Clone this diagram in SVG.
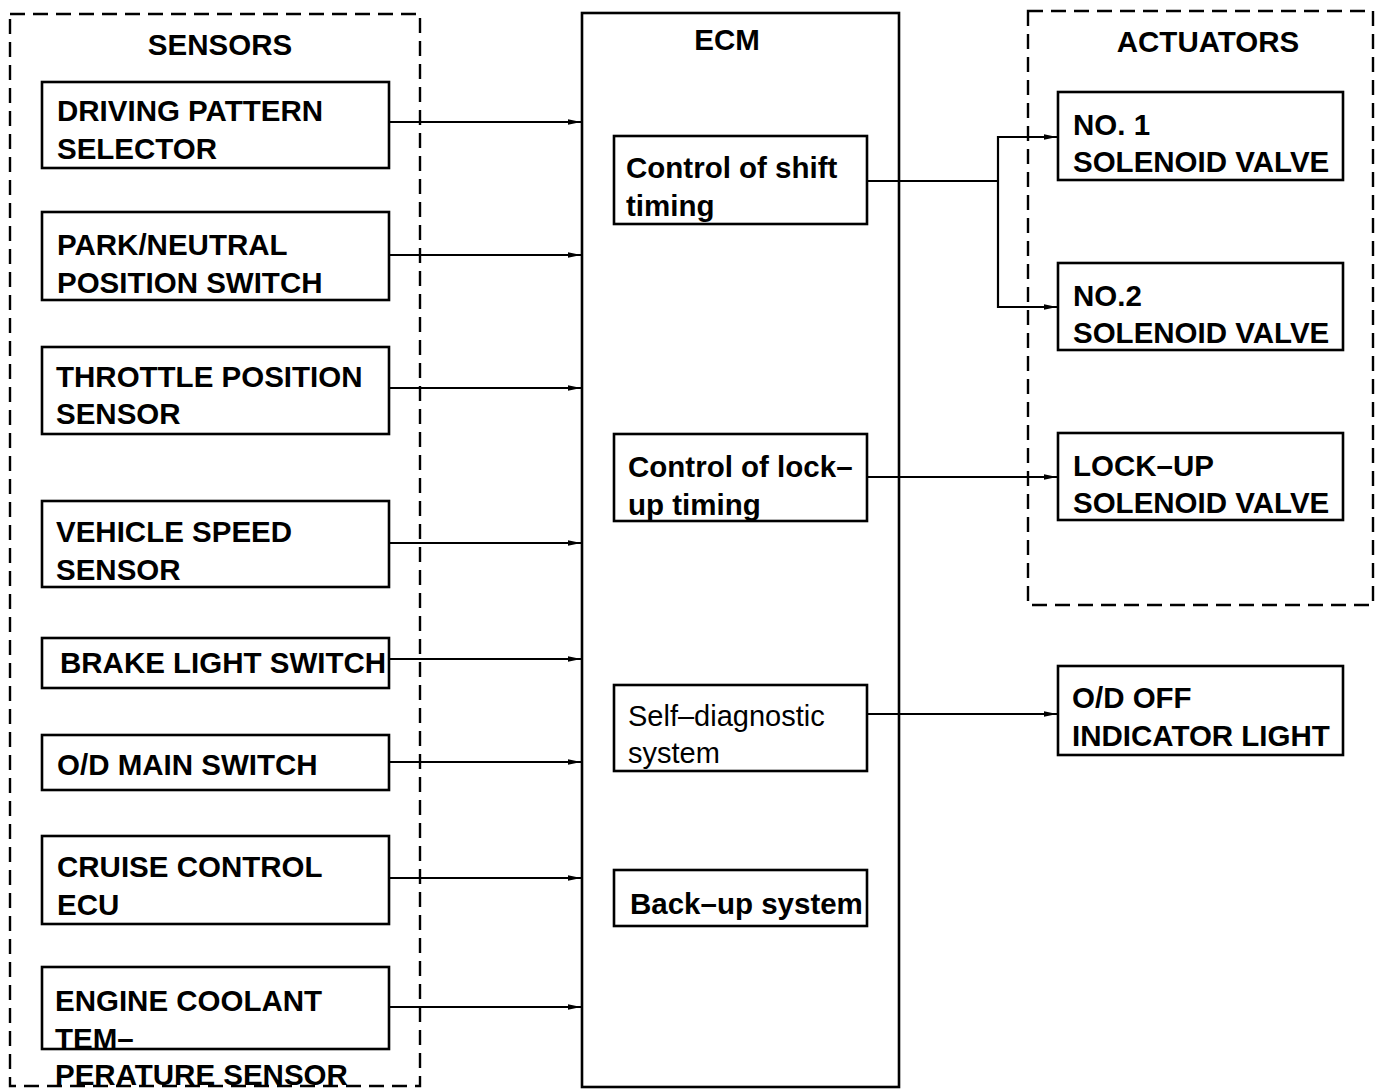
<svg xmlns="http://www.w3.org/2000/svg" width="1376" height="1090" viewBox="0 0 1376 1090">
<style>
.box{fill:none;stroke:#000;stroke-width:2.6}
.dash{fill:none;stroke:#000;stroke-width:2.4;stroke-dasharray:15 8}
.b{font-family:"Liberation Sans",Arial,sans-serif;font-weight:bold;font-size:29.5px;fill:#000}
.r{font-family:"Liberation Sans",Arial,sans-serif;font-size:29px;fill:#000}
.c{fill:none;stroke:#000;stroke-width:2.2}
</style>
<defs>
<marker id="ah" viewBox="0 0 13 8" refX="13" refY="4" markerWidth="13" markerHeight="8" markerUnits="userSpaceOnUse" orient="auto">
<path d="M0,1.2 L13,4 L0,6.8 Z" fill="#000"/>
</marker>
</defs>
<rect width="1376" height="1090" fill="#fff"/>
<g id="sensors-group">
<rect class="dash" x="10" y="14" width="410" height="1072"/>
<text class="b" x="220" y="55" text-anchor="middle">SENSORS</text>
</g>
<g id="actuators-group">
<rect class="dash" x="1028" y="11" width="345" height="594"/>
<text class="b" x="1208" y="52" text-anchor="middle">ACTUATORS</text>
</g>
<g id="ecm">
<rect class="box" x="582" y="13" width="317" height="1074"/>
<text class="b" x="727" y="50" text-anchor="middle">ECM</text>
</g>
<g id="s1"><rect class="box" x="42" y="82" width="347" height="86"/><text class="b" x="57" y="121">DRIVING PATTERN</text><text class="b" x="57" y="159">SELECTOR</text></g>
<g id="s2"><rect class="box" x="42" y="212" width="347" height="88"/><text class="b" x="57" y="255">PARK/NEUTRAL</text><text class="b" x="57" y="293">POSITION SWITCH</text></g>
<g id="s3"><rect class="box" x="42" y="347" width="347" height="87"/><text class="b" x="56" y="387">THROTTLE POSITION</text><text class="b" x="56" y="424">SENSOR</text></g>
<g id="s4"><rect class="box" x="42" y="501" width="347" height="86"/><text class="b" x="56" y="542">VEHICLE SPEED</text><text class="b" x="56" y="580">SENSOR</text></g>
<g id="s5"><rect class="box" x="42" y="638" width="347" height="50"/><text class="b" x="60" y="673">BRAKE LIGHT SWITCH</text></g>
<g id="s6"><rect class="box" x="42" y="735" width="347" height="55"/><text class="b" x="57" y="775">O/D MAIN SWITCH</text></g>
<g id="s7"><rect class="box" x="42" y="836" width="347" height="88"/><text class="b" x="57" y="877">CRUISE CONTROL</text><text class="b" x="57" y="915">ECU</text></g>
<g id="s8"><rect class="box" x="42" y="967" width="347" height="82"/><text class="b" x="55" y="1011">ENGINE COOLANT</text><text class="b" x="55" y="1049">TEM–</text><text class="b" x="55" y="1085">PERATURE SENSOR</text></g>
<g id="e1"><rect class="box" x="614" y="136" width="253" height="88"/><text class="b" x="626" y="178">Control of shift</text><text class="b" x="626" y="216">timing</text></g>
<g id="e2"><rect class="box" x="614" y="434" width="253" height="87"/><text class="b" x="628" y="477">Control of lock–</text><text class="b" x="628" y="515">up timing</text></g>
<g id="e3"><rect class="box" x="614" y="685" width="253" height="86"/><text class="r" x="628" y="726">Self–diagnostic</text><text class="r" x="628" y="763">system</text></g>
<g id="e4"><rect class="box" x="614" y="870" width="253" height="56"/><text class="b" x="630" y="914">Back–up system</text></g>
<g id="a1"><rect class="box" x="1058" y="92" width="285" height="88"/><text class="b" x="1073" y="135">NO. 1</text><text class="b" x="1073" y="172">SOLENOID VALVE</text></g>
<g id="a2"><rect class="box" x="1058" y="263" width="285" height="87"/><text class="b" x="1073" y="306">NO.2</text><text class="b" x="1073" y="343">SOLENOID VALVE</text></g>
<g id="a3"><rect class="box" x="1058" y="433" width="285" height="87"/><text class="b" x="1073" y="476">LOCK–UP</text><text class="b" x="1073" y="513">SOLENOID VALVE</text></g>
<g id="a4"><rect class="box" x="1058" y="666" width="285" height="89"/><text class="b" x="1072" y="708">O/D OFF</text><text class="b" x="1072" y="746">INDICATOR LIGHT</text></g>
<g id="connectors">
<line class="c" x1="389" y1="122" x2="581" y2="122" marker-end="url(#ah)"/>
<line class="c" x1="389" y1="255" x2="581" y2="255" marker-end="url(#ah)"/>
<line class="c" x1="389" y1="388" x2="581" y2="388" marker-end="url(#ah)"/>
<line class="c" x1="389" y1="543" x2="581" y2="543" marker-end="url(#ah)"/>
<line class="c" x1="389" y1="659" x2="581" y2="659" marker-end="url(#ah)"/>
<line class="c" x1="389" y1="762" x2="581" y2="762" marker-end="url(#ah)"/>
<line class="c" x1="389" y1="878" x2="581" y2="878" marker-end="url(#ah)"/>
<line class="c" x1="389" y1="1007" x2="581" y2="1007" marker-end="url(#ah)"/>
<polyline class="c" points="867,181 998,181"/>
<polyline class="c" points="998,181 998,137 1057,137" marker-end="url(#ah)"/>
<polyline class="c" points="998,181 998,307 1057,307" marker-end="url(#ah)"/>
<line class="c" x1="867" y1="477" x2="1057" y2="477" marker-end="url(#ah)"/>
<line class="c" x1="867" y1="714" x2="1057" y2="714" marker-end="url(#ah)"/>
</g>
</svg>
